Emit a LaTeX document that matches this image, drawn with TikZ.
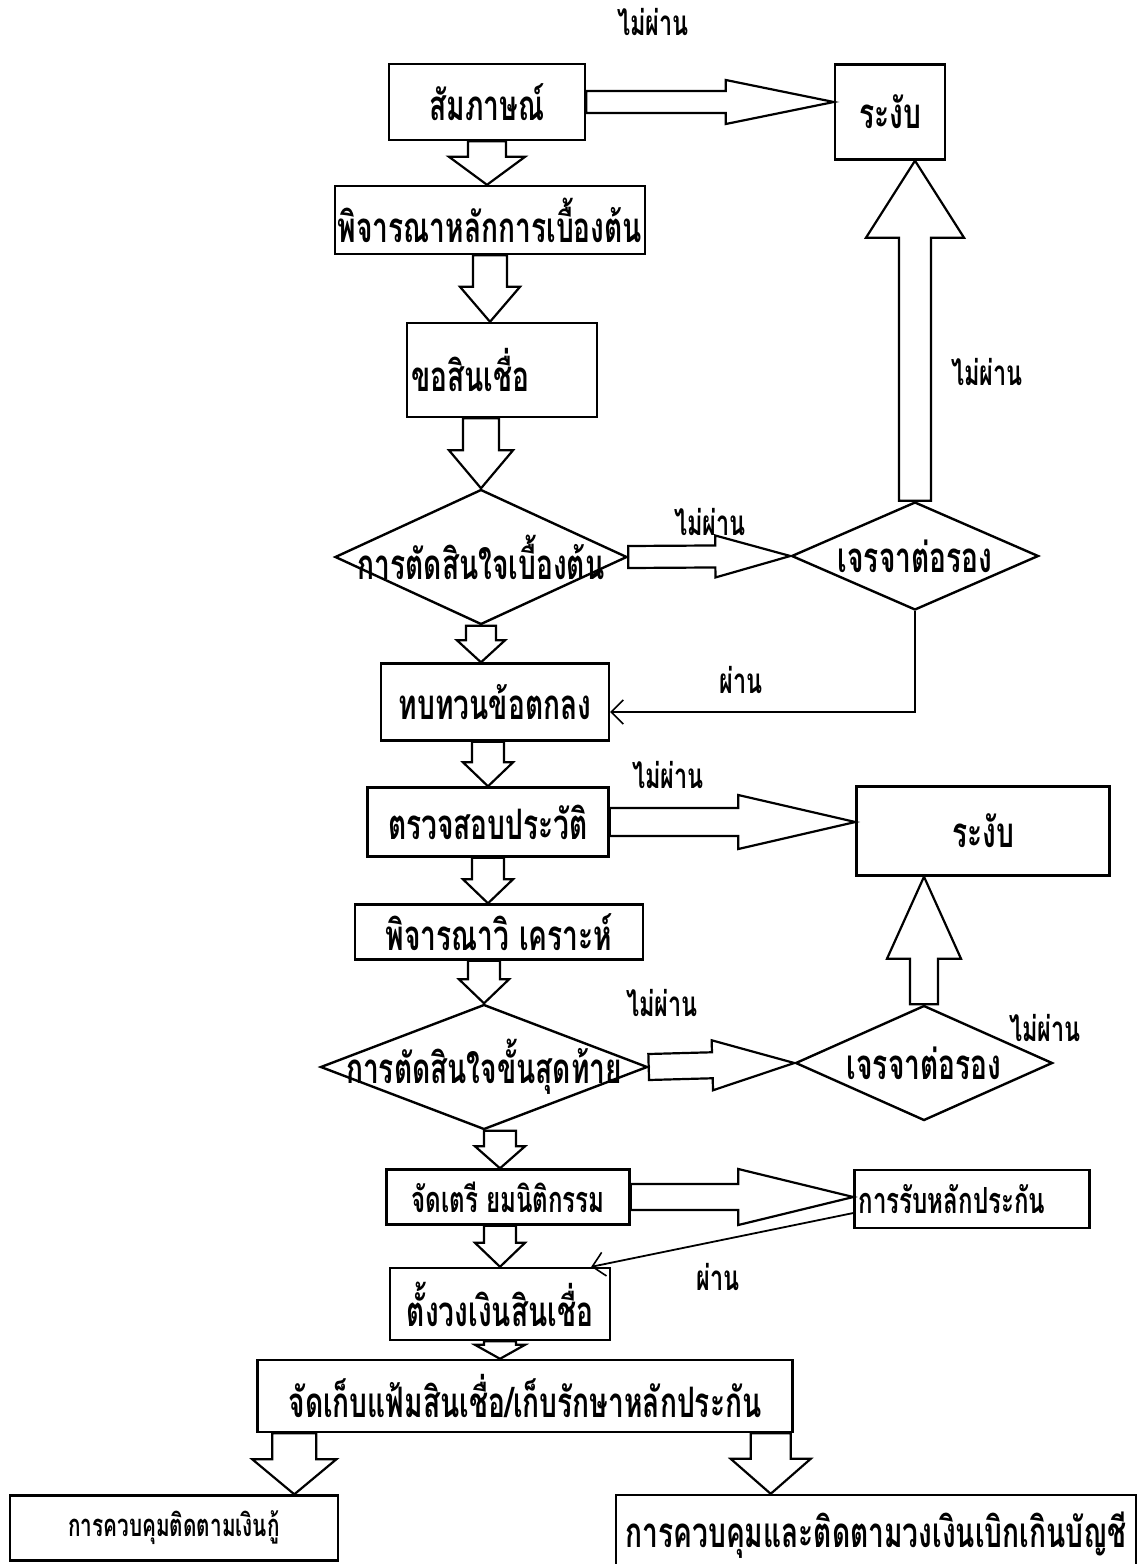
\documentclass[tikz,border=0pt]{standalone}
\usepackage{fontspec}
\newfontfamily\thai[Script=Thai,FakeStretch=0.67]{Loma}
\usetikzlibrary{shapes.geometric,calc,arrows.meta}
\tikzset{
  box/.style={draw,line width=2.4pt,inner sep=2pt,font=\thai\bfseries\fontsize{42}{46}\selectfont},
  small/.style={font=\thai\bfseries\fontsize{36}{40}\selectfont},
  tiny/.style={font=\thai\bfseries\fontsize{31}{34}\selectfont},
  dia/.style={draw,diamond,line width=2.4pt,inner sep=0pt,font=\thai\bfseries\fontsize{42}{46}\selectfont},
  lbl/.style={font=\thai\bfseries\fontsize{35}{38}\selectfont},
  fat/.style={draw,line width=2.2pt,line join=miter},
  thin/.style={line width=1.8pt,-{Straight Barb[length=12pt,width=24pt,line width=1.6pt]}}
}
% hollow block arrow: shaft half width, head half width, head length, from, tip
\newcommand{\fatarrow}[5]{%
  \coordinate (fa-s) at #4;
  \coordinate (fa-t) at #5;
  \coordinate (fa-h) at ($(fa-t)!#3!(fa-s)$);
  \draw[fat] ($(fa-s)!#1!90:(fa-t)$) -- ($(fa-h)!#1!90:(fa-t)$)
    -- ($(fa-h)!#2!90:(fa-t)$) -- (fa-t)
    -- ($(fa-h)!#2!-90:(fa-t)$) -- ($(fa-h)!#1!-90:(fa-t)$)
    -- ($(fa-s)!#1!-90:(fa-t)$) -- cycle;
}
\begin{document}
\begin{tikzpicture}[x=1pt,y=-1pt]
\useasboundingbox (0,0) rectangle (1138,1564);

% main column
\node[box,minimum width=196pt,minimum height=76pt] (interview) at (487,102) {สัมภาษณ์};
\node[box,minimum width=310pt,minimum height=68pt] (principle) at (490,220) {พิจารณาหลักการเบื้องต้น};
\node[box,minimum width=190pt,minimum height=94pt,text width=182pt,align=left] (request) at (502,370) {ขอสินเชื่อ};
\node[dia,minimum width=292pt,minimum height=135pt] (decA) at (481,557) {\makebox[0pt]{การตัดสินใจเบื้องต้น}};
\node[box,minimum width=228pt,minimum height=77pt] (review) at (495,702) {ทบทวนข้อตกลง};
\node[box,minimum width=241pt,minimum height=69pt] (history) at (488,822) {ตรวจสอบประวัติ};
\node[box,minimum width=288pt,minimum height=55pt] (analysis) at (499,932) {พิจารณาวิ เคราะห์};
\node[dia,minimum width=327pt,minimum height=125pt] (decB) at (484,1067) {\makebox[0pt]{การตัดสินใจขั้นสุดท้าย}};
\node[box,small,minimum width=243pt,minimum height=55pt] (legal) at (508,1197) {จัดเตรี ยมนิติกรรม};
\node[box,minimum width=220pt,minimum height=72pt] (limit) at (500,1304) {ตั้งวงเงินสินเชื่อ};
\node[box,minimum width=535pt,minimum height=72pt] (filing) at (525,1396) {จัดเก็บแฟ้มสินเชื่อ/เก็บรักษาหลักประกัน};
\node[box,tiny,minimum width=328pt,minimum height=65pt] (loanctl) at (174,1528) {การควบคุมติดตามเงินกู้};
\node[box,minimum width=520pt,minimum height=80pt] (odctl) at (876,1535) {การควบคุมและติดตามวงเงินเบิกเกินบัญชี};

% right side
\node[box,minimum width=110pt,minimum height=95pt] (stopA) at (890,112) {ระงับ};
\node[dia,minimum width=247pt,minimum height=108pt] (negoA) at (915,556) {\makebox[0pt]{เจรจาต่อรอง}};
\node[box,minimum width=253pt,minimum height=89pt] (stopB) at (983,831) {ระงับ};
\node[dia,minimum width=257pt,minimum height=115pt] (negoB) at (924,1063) {\makebox[0pt]{เจรจาต่อรอง}};
\node[box,small,minimum width=235pt,minimum height=58pt,text width=227pt,align=left] (collateral) at (972,1199) {การรับหลักประกัน};

% labels
\node[lbl] (failA) at (653,22) {ไม่ผ่าน};
\node[lbl] (failB) at (987,372) {ไม่ผ่าน};
\node[lbl] (failC) at (710,522) {ไม่ผ่าน};
\node[lbl] (failD) at (668,775) {ไม่ผ่าน};
\node[lbl] (failE) at (662,1003) {ไม่ผ่าน};
\node[lbl] (failF) at (1045,1028) {ไม่ผ่าน};
\node[lbl] (passA) at (741,680) {ผ่าน};
\node[lbl] (passB) at (718,1277) {ผ่าน};

% down arrows
\fatarrow{19pt}{38pt}{28pt}{(interview.south)}{(interview.south |- principle.north)}
\fatarrow{17pt}{30pt}{35pt}{(principle.south)}{(principle.south |- request.north)}
\fatarrow{18pt}{32pt}{38pt}{(decA.north |- request.south)}{(decA.north)}
\fatarrow{15pt}{24pt}{22pt}{(decA.south)}{(decA.south |- review.north)}
\fatarrow{16pt}{25pt}{24pt}{(history.north |- review.south)}{(history.north)}
\fatarrow{16pt}{25pt}{24pt}{(history.south)}{(history.south |- analysis.north)}
\fatarrow{16pt}{25pt}{24pt}{(decB.north |- analysis.south)}{(decB.north)}
\fatarrow{16pt}{25pt}{22pt}{(limit.north |- decB.south)}{(limit.north |- legal.north)}
\fatarrow{16pt}{25pt}{24pt}{(limit.north |- legal.south)}{(limit.north)}
\fatarrow{16pt}{25pt}{14pt}{(limit.south)}{(limit.south |- filing.north)}
\fatarrow{22pt}{42pt}{35pt}{([xshift=38pt]filing.south west)}{([xshift=38pt]filing.south west |- loanctl.north)}
\fatarrow{20pt}{40pt}{35pt}{([xshift=-23pt]filing.south east)}{([xshift=-23pt]filing.south east |- odctl.north)}

% side arrows
\fatarrow{11pt}{22pt}{108pt}{(interview.east)}{(stopA.west |- interview.east)}
\fatarrow{11pt}{21pt}{75pt}{(decA.east)}{(negoA.west)}
\fatarrow{14pt}{27pt}{117pt}{(history.east)}{(stopB.west |- history.east)}
\fatarrow{13pt}{25pt}{82pt}{(decB.east)}{(negoB.west)}
\fatarrow{13pt}{28pt}{115pt}{(legal.east)}{(collateral.west |- legal.east)}
\fatarrow{16pt}{49pt}{77pt}{(negoA.north)}{(stopA.south -| negoA.north)}
\fatarrow{14pt}{37pt}{82pt}{(negoB.north)}{(stopB.south -| negoB.north)}

% thin return lines
\draw[thin] (negoA.south) |- ([yshift=-10pt]review.east);
\draw[thin] ([yshift=-14pt]collateral.west) -- ([xshift=-20pt]limit.north east);
\end{tikzpicture}
\end{document}
